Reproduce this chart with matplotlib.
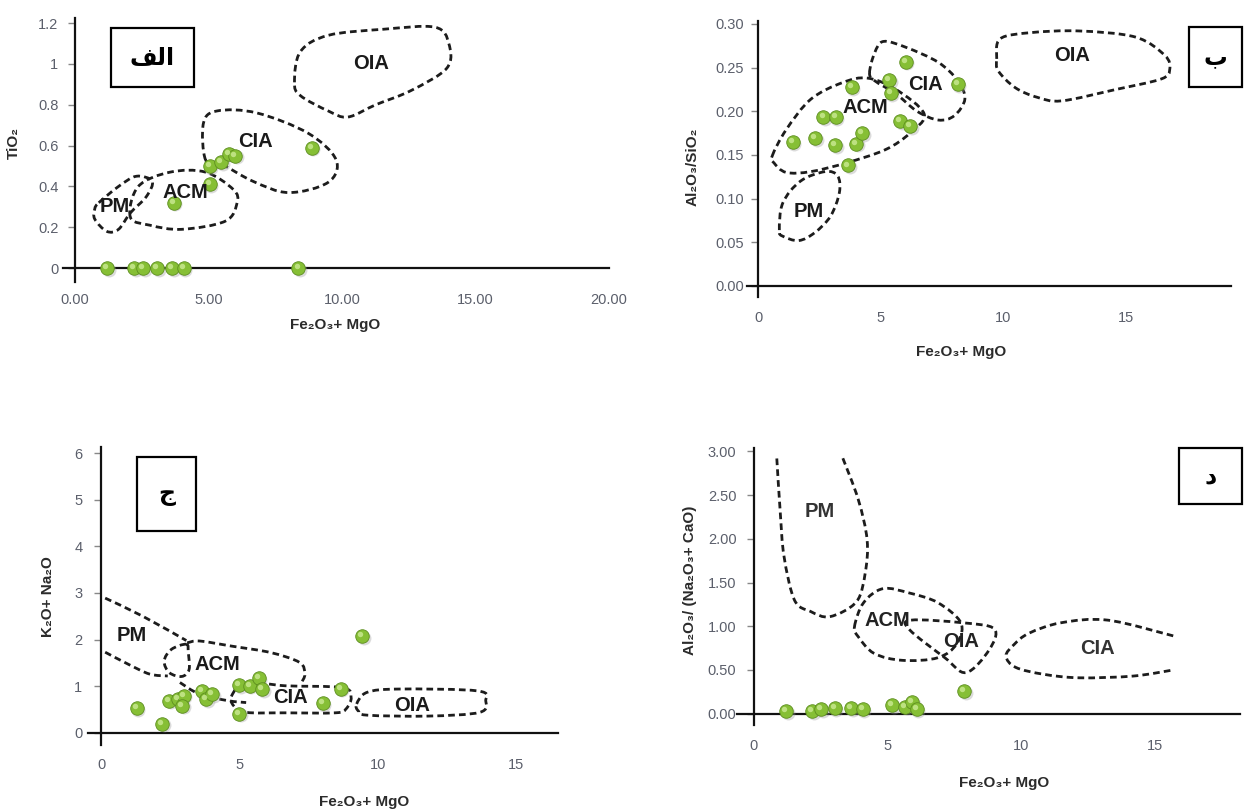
import matplotlib
matplotlib.use("Agg")
import matplotlib.pyplot as plt
import numpy as np
from matplotlib.path import Path
from matplotlib.patches import PathPatch, Rectangle
from matplotlib.transforms import offset_copy

# Panel data (Fe2O3 + MgO on x)
a_x = [1.21, 2.22, 2.55, 3.08, 3.63, 4.07, 8.37, 3.70, 5.04, 5.04, 5.48, 5.78, 6.00, 8.86]
a_y = [0, 0, 0, 0, 0, 0, 0, 0.32, 0.41, 0.50, 0.52, 0.56, 0.55, 0.59]

b_x = [1.41, 2.34, 2.67, 3.17, 3.14, 3.82, 3.68, 4.01, 4.26, 5.34, 5.41, 6.03, 5.80, 6.20, 8.15]
b_y = [0.165, 0.169, 0.193, 0.193, 0.161, 0.228, 0.138, 0.163, 0.175, 0.236, 0.221, 0.257,
       0.189, 0.183, 0.231]

c_x = [1.29, 2.21, 2.47, 2.79, 2.99, 2.92, 3.63, 3.80, 4.01, 4.98, 4.98, 5.37, 5.69, 5.82,
       8.00, 8.65, 9.42]
c_y = [0.53, 0.20, 0.69, 0.72, 0.80, 0.58, 0.90, 0.72, 0.83, 0.41, 1.02, 1.01, 1.17, 0.94,
       0.64, 0.95, 2.08]

d_x = [1.22, 2.19, 2.52, 3.02, 3.64, 4.08, 5.17, 5.67, 5.93, 6.09, 7.88]
d_y = [0.03, 0.03, 0.05, 0.06, 0.06, 0.05, 0.10, 0.08, 0.13, 0.05, 0.26]

# Tectonic setting fields (outline points)
a_pm = [(0.89, 0.32), (1.63, 0.40), (2.30, 0.45), (2.89, 0.425), (2.67, 0.35), (2.07, 0.27),
        (1.63, 0.19), (1.19, 0.18), (0.74, 0.24), (0.74, 0.29)]
a_acm = [(2.07, 0.25), (2.37, 0.40), (3.56, 0.47), (4.89, 0.47), (5.93, 0.385), (6.07, 0.32),
         (5.63, 0.23), (4.0, 0.19), (2.81, 0.21)]
a_cia = [(4.89, 0.53), (4.81, 0.71), (5.33, 0.77), (6.81, 0.76), (8.74, 0.66), (9.78, 0.53),
         (9.48, 0.42), (8.0, 0.37), (6.67, 0.425), (5.48, 0.51)]
a_oia = [(8.22, 0.91), (8.44, 1.06), (9.48, 1.14), (11.56, 1.17), (13.48, 1.18), (14.0, 1.10),
         (13.93, 0.98), (12.59, 0.87), (11.26, 0.80), (10.22, 0.74), (9.48, 0.77), (8.44, 0.845)]

b_pm = [(0.87, 0.064), (1.01, 0.095), (1.73, 0.12), (2.74, 0.131), (3.25, 0.126), (3.32, 0.107),
        (2.96, 0.080), (2.31, 0.061), (1.66, 0.052), (1.01, 0.057)]
b_acm = [(0.58, 0.149), (1.15, 0.179), (2.16, 0.214), (3.46, 0.233), (4.47, 0.238), (5.63, 0.225),
         (6.78, 0.197), (6.2, 0.175), (5.19, 0.156), (3.61, 0.141), (2.16, 0.131), (1.15, 0.130),
         (0.65, 0.141)]
b_cia = [(4.55, 0.244), (4.76, 0.267), (5.12, 0.280), (6.06, 0.273), (7.36, 0.256), (8.15, 0.235),
         (8.44, 0.214), (8.01, 0.195), (7.36, 0.190), (6.49, 0.200), (5.63, 0.220), (4.76, 0.235)]
b_oia = [(9.74, 0.260), (9.88, 0.283), (11.1, 0.290), (13.1, 0.292), (15.4, 0.285), (16.6, 0.264),
         (16.8, 0.248), (16.45, 0.237), (14.6, 0.225), (12.4, 0.212), (11.4, 0.216), (10.5, 0.227),
         (9.81, 0.246)]

c_pm_top = [(0.15, 2.89), (1.51, 2.50), (3.08, 1.98)]
c_pm_bottom = [(0.15, 1.73), (0.99, 1.47), (1.76, 1.26), (2.41, 1.22)]
c_lobe = [(3.08, 1.90), (2.54, 1.79), (2.28, 1.54), (2.47, 1.29), (2.92, 1.21), (3.18, 1.36),
          (3.15, 1.72)]
c_acm = [(3.11, 1.93), (3.56, 1.97), (4.72, 1.86), (6.14, 1.72), (7.17, 1.51), (7.36, 1.26),
         (7.23, 1.07)]
c_acm_low = [(2.85, 1.08), (3.56, 0.83), (4.59, 0.69), (5.24, 0.65)]
c_cia = [(4.72, 0.80), (5.24, 1.08), (6.65, 1.01), (8.71, 0.97), (9.03, 0.76), (8.84, 0.51),
         (8.46, 0.43), (6.65, 0.43), (5.24, 0.44), (4.79, 0.58)]
c_oia = [(9.23, 0.62), (9.61, 0.87), (10.77, 0.94), (13.6, 0.90), (13.89, 0.69), (13.67, 0.44),
         (11.8, 0.36), (9.61, 0.38), (9.29, 0.47)]

d_pm = [(0.86, 2.92), (0.99, 2.30), (1.13, 1.80), (1.52, 1.30), (2.12, 1.17), (2.85, 1.11),
        (3.84, 1.28), (4.17, 1.61), (4.24, 1.99), (3.91, 2.45), (3.31, 2.94)]
d_acm = [(3.77, 1.0), (4.11, 1.27), (4.83, 1.43), (5.83, 1.38), (6.89, 1.27), (7.75, 1.04),
         (7.6, 0.80), (6.89, 0.64), (5.56, 0.61), (4.50, 0.69), (3.91, 0.88)]
d_oia = [(5.89, 1.07), (7.81, 1.04), (9.0, 0.97), (8.81, 0.73), (7.95, 0.47), (7.15, 0.64),
         (5.83, 0.96)]
d_cia = [(15.7, 0.89), (13.25, 1.07), (11.5, 1.04), (10.3, 0.92), (9.74, 0.79), (9.44, 0.66),
         (9.8, 0.53), (10.86, 0.45), (12.2, 0.41), (14.2, 0.43), (15.7, 0.50)]

W, H = 1244, 810
fig = plt.figure(figsize=(W / 100, H / 100), dpi=100)

TICK_COLOR = "#5b5f6b"
FAM = ["Liberation Sans", "DejaVu Sans"]


def px_axes(left, top, right, bottom):
    return fig.add_axes([left / W, 1 - bottom / H, (right - left) / W, (bottom - top) / H])


def smooth(pts, closed=True):
    p = np.asarray(pts, float)
    n = len(p)
    verts = [p[0]]
    codes = [Path.MOVETO]
    for i in range(n if closed else n - 1):
        p0 = p[(i - 1) % n] if (closed or i > 0) else p[i]
        p1 = p[i]
        p2 = p[(i + 1) % n]
        p3 = p[(i + 2) % n] if (closed or i + 2 < n) else p2
        verts += [p1 + (p2 - p0) / 6, p2 - (p3 - p1) / 6, p2]
        codes += [Path.CURVE4] * 3
    return Path(verts, codes)


def field(ax, pts, closed=True):
    ax.add_patch(PathPatch(smooth(pts, closed), fill=False, ec="#1c1c1c", lw=2.0,
                           ls=(0, (2.4, 1.5)), zorder=2))


def dots(ax, x, y):
    shadow = offset_copy(ax.transData, fig=fig, x=1.2, y=-1.2, units="points")
    hi = offset_copy(ax.transData, fig=fig, x=-1.4, y=1.4, units="points")
    ax.scatter(x, y, s=100, color="#9a9a9a", alpha=0.35, lw=0, transform=shadow, zorder=3)
    ax.scatter(x, y, s=95, color="#86bf35", ec="#5d8e1f", lw=0.6, zorder=4)
    ax.scatter(x, y, s=15, color="#c8e88f", alpha=0.85, lw=0, transform=hi, zorder=5)


def setup(ax, xlim, ylim, xt, xl, yt, yl, ypad):
    ax.set_xlim(*xlim)
    ax.set_ylim(*ylim)
    for s in ["top", "right"]:
        ax.spines[s].set_visible(False)
    for s in ["left", "bottom"]:
        ax.spines[s].set_position(("data", 0))
        ax.spines[s].set_linewidth(1.6)
        ax.spines[s].set_color("#111111")
    ax.set_xticks(xt, xl)
    ax.set_yticks(yt, yl)
    ax.tick_params(axis="x", length=0, pad=18, labelsize=10.5, labelcolor=TICK_COLOR)
    ax.tick_params(axis="y", length=5, width=1, color="#888888", pad=ypad, labelsize=10.5,
                   labelcolor=TICK_COLOR)
    for lab in ax.get_xticklabels() + ax.get_yticklabels():
        lab.set_family(FAM)
    ax.patch.set_alpha(0)


def tag(ax, x, y, s, size=14.5, color="#1a1a1a"):
    ax.text(x, y, s, ha="center", va="center", fontsize=size, fontweight="bold",
            color=color, family=FAM, zorder=6)


def box(left, top, right, bottom, s):
    fig.add_artist(Rectangle((left / W, 1 - bottom / H), (right - left) / W, (bottom - top) / H,
                             transform=fig.transFigure, fill=True, fc="white", ec="black", lw=1.6))
    fig.text((left + right) / 2 / W, 1 - (top + bottom) / 2 / H, s, ha="center", va="center",
             fontsize=17, fontweight="bold", family=["DejaVu Sans"])


def fig_label(x, y, s, rot=0):
    fig.text(x / W, 1 - y / H, s, ha="center", va="center", rotation=rot, fontsize=11,
             fontweight="bold", color="#2b2b2b", family=FAM)


# Panel alef: TiO2
ax1 = px_axes(63, 18, 609, 282)
setup(ax1, (-0.45, 20.0), (-0.068, 1.225), [0, 5, 10, 15, 20],
      ["0.00", "5.00", "10.00", "15.00", "20.00"],
      [0, 0.2, 0.4, 0.6, 0.8, 1.0, 1.2], ["0", "0.2", "0.4", "0.6", "0.8", "1", "1.2"], 7)
for pts in [a_pm, a_acm, a_cia, a_oia]:
    field(ax1, pts)
dots(ax1, a_x, a_y)
tag(ax1, 1.48, 0.30, "PM")
tag(ax1, 4.15, 0.37, "ACM")
tag(ax1, 6.74, 0.62, "CIA")
tag(ax1, 11.1, 1.0, "OIA")

# Panel be: Al2O3/SiO2
ax2 = px_axes(747, 21, 1231, 297)
setup(ax2, (-0.45, 19.3), (-0.0126, 0.3034), [0, 5, 10, 15], ["0", "5", "10", "15"],
      [0, 0.05, 0.10, 0.15, 0.20, 0.25, 0.30],
      ["0.00", "0.05", "0.10", "0.15", "0.20", "0.25", "0.30"], 5)
for pts in [b_pm, b_acm, b_cia, b_oia]:
    field(ax2, pts)
dots(ax2, b_x, b_y)
tag(ax2, 2.09, 0.085, "PM")
tag(ax2, 4.4, 0.204, "ACM")
tag(ax2, 6.85, 0.231, "CIA")
tag(ax2, 12.8, 0.264, "OIA")

# Panel jim: K2O + Na2O
ax3 = px_axes(88, 447, 558, 745)
setup(ax3, (-0.47, 16.5), (-0.26, 6.13), [0, 5, 10, 15], ["0", "5", "10", "15"],
      [0, 1, 2, 3, 4, 5, 6], ["0", "1", "2", "3", "4", "5", "6"], 8.5)
field(ax3, c_pm_top, closed=False)
field(ax3, c_pm_bottom, closed=False)
field(ax3, c_lobe)
field(ax3, c_acm, closed=False)
field(ax3, c_acm_low, closed=False)
field(ax3, c_cia)
field(ax3, c_oia)
dots(ax3, c_x, c_y)
tag(ax3, 1.12, 2.08, "PM")
tag(ax3, 4.21, 1.47, "ACM")
tag(ax3, 6.85, 0.76, "CIA")
tag(ax3, 11.22, 0.58, "OIA")

# Panel dal: Al2O3/(Na2O+CaO)
ax4 = px_axes(737, 448, 1240, 725)
setup(ax4, (-0.63, 18.2), (-0.13, 3.04), [0, 5, 10, 15], ["0", "5", "10", "15"],
      [0, 0.5, 1.0, 1.5, 2.0, 2.5, 3.0],
      ["0.00", "0.50", "1.00", "1.50", "2.00", "2.50", "3.00"], 7.5)
field(ax4, d_pm, closed=False)
field(ax4, d_acm)
field(ax4, d_oia)
field(ax4, d_cia, closed=False)
dots(ax4, d_x, d_y)
tag(ax4, 2.45, 2.31, "PM", color="#333333")
tag(ax4, 5.0, 1.07, "ACM", color="#222222")
tag(ax4, 7.75, 0.83, "OIA", color="#222222")
tag(ax4, 12.85, 0.75, "CIA", color="#333333")

# axis titles
fig_label(14, 143, "TiO₂", rot=90)
fig_label(693, 167, "Al₂O₃/SiO₂", rot=90)
fig_label(48, 597, "K₂O+ Na₂O", rot=90)
fig_label(690, 580, "Al₂O₃/ (Na₂O₃+ CaO)", rot=90)
fig_label(335, 325, "Fe₂O₃+ MgO")
fig_label(961, 352, "Fe₂O₃+ MgO")
fig_label(364, 802, "Fe₂O₃+ MgO")
fig_label(1004, 783, "Fe₂O₃+ MgO")

# panel letters (presentation forms, visual order)
box(111, 28, 194, 87, "\uFED2\uFEDF\uFE8D")
box(1189, 27, 1242, 87, "\uFE8F")
box(137, 457, 196, 531, "\uFE9D")
box(1179, 448, 1242, 504, "\uFEA9")

fig.savefig("out.png", dpi=100)
